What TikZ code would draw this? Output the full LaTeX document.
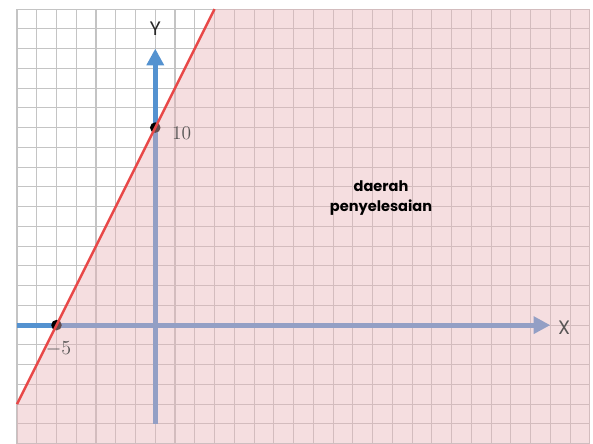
\documentclass[tikz,border=0pt]{standalone}
\usepackage{fontspec}
\newfontfamily\labelfont{Poppins}
\usetikzlibrary{positioning,arrows.meta}
\definecolor{GridGray}{RGB}{196,196,196}
\definecolor{AxisBlue}{RGB}{84,146,208}
\definecolor{RegionPink}{RGB}{232,178,183}
\definecolor{BoundRed}{RGB}{232,72,72}
\definecolor{LabelGray}{RGB}{88,86,86}

\begin{document}
\begin{tikzpicture}[x=0.5cm, y=0.5cm,
  gridline/.style={GridGray, line width=0.75pt, step=0.5cm},
  axisline/.style={AxisBlue, line width=3.6pt, -{Triangle[length=12pt,width=12pt]}},
  dotmark/.style={circle, fill=black, inner sep=0pt, minimum size=7.6pt},
  numlabel/.style={font=\fontsize{14}{16}\selectfont, text=LabelGray},
  axislabel/.style={font=\labelfont\fontsize{14}{16}\selectfont, text=LabelGray}]
  \useasboundingbox (-7.86,-6) rectangle (22.16,16.46);
  \draw[gridline] (-7,-6) grid (22,16);
  % axes
  \coordinate (xstart) at (-7,0);
  \coordinate (xend) at (20,0);
  \coordinate (ystart) at (0,-5);
  \coordinate (yend) at (0,14);
  \draw[axisline] (xstart) -- (xend);
  \draw[axisline] (ystart) -- (yend);
  \node[dotmark] (xcut) at (-5,0) {};
  \node[dotmark] (ycut) at (0,10) {};
  % region right of the line
  \coordinate (linelow) at (-7,-4);
  \coordinate (linetop) at (3,16);
  \fill[RegionPink, opacity=0.43] (linetop) -- (22,16) -- (22,-6) -- (-7,-6) -- (linelow) -- cycle;
  \draw[BoundRed, line width=1.8pt] (linelow) -- (linetop);
  \node[numlabel] (ten) at (1.34,9.72) {10};
  \node[numlabel] (minfive) at (-4.9,-1.2) {$-5$};
  \node[axislabel] (xname) at (20.7,-0.15) {X};
  \node[axislabel, text=black!85] (yname) at (0,15) {Y};
  \node[font=\labelfont\bfseries\fontsize{10.5}{14}\selectfont, align=center] (region) at (11.43,6.43)
    {daerah\\penyelesaian};
\end{tikzpicture}
\end{document}
